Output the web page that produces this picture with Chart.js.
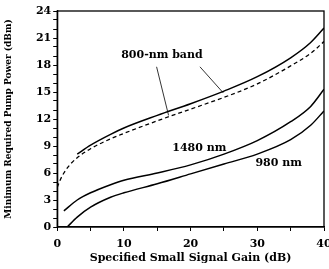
<!DOCTYPE html>
<html>
<head>
<meta charset="utf-8">
<script src="https://cdn.jsdelivr.net/npm/chart.js@4.4.0/dist/chart.umd.min.js"></script>
<style>
  html, body { margin: 0; padding: 0; background: #fff; }
  #wrap { width: 329px; height: 269px; }
</style>
</head>
<body>
<div id="wrap"><canvas id="pump" width="329" height="269"></canvas></div>
<script>
// values (gain in dB, pump power in dBm)
var gain800 = [3, 5, 8, 10, 15, 20, 25, 30, 35, 38, 40];
var pump800 = [8.1, 9.1, 10.3, 11.0, 12.4, 13.7, 15.1, 16.7, 18.8, 20.5, 22.1];

var gain800d = [0, 0.5, 1, 2, 3, 5, 8, 10, 15, 20, 25, 30, 35, 38, 40];
var pump800d = [4.4, 5.3, 6.0, 7.0, 7.7, 8.7, 9.8, 10.4, 11.8, 13.1, 14.4, 15.9, 17.9, 19.3, 20.6];

var gain1480 = [1, 3, 5, 8, 10, 15, 20, 25, 30, 35, 38, 40];
var pump1480 = [1.8, 3.0, 3.8, 4.7, 5.2, 6.0, 6.9, 8.1, 9.6, 11.7, 13.4, 15.3];

var gain980 = [1.5, 3, 5, 8, 10, 15, 20, 25, 30, 35, 38, 40];
var pump980 = [0, 1.1, 2.2, 3.3, 3.8, 4.8, 5.9, 7.0, 8.1, 9.7, 11.3, 12.9];

var xTicks = [0, 10, 20, 30, 40];
var yTicks = [0, 3, 6, 9, 12, 15, 18, 21, 24];

var serif = '"DejaVu Serif", serif';

function pts(xs, ys) {
  return xs.map(function(x, i) { return { x: x, y: ys[i] }; });
}

// curve labels, in data units
var notes = [
  { text: '800-nm band', x: 15.7, y: 19.1 },
  { text: '1480 nm', x: 21.3, y: 8.8 },
  { text: '980 nm', x: 33.2, y: 7.1 }
];
var leaders = [
  [[14.9, 17.8], [16.7, 12.4]],
  [[21.4, 17.8], [24.9, 14.9]]
];

const frameAndNotes = {
  id: 'frameAndNotes',
  afterDatasetsDraw(chart) {
    const { ctx, chartArea: a, scales: { x, y } } = chart;
    ctx.save();
    ctx.strokeStyle = '#000';
    ctx.lineWidth = 1.3;
    ctx.strokeRect(a.left, a.top, a.right - a.left, a.bottom - a.top);

    ctx.lineWidth = 0.8;
    leaders.forEach(function(l) {
      ctx.beginPath();
      ctx.moveTo(x.getPixelForValue(l[0][0]), y.getPixelForValue(l[0][1]));
      ctx.lineTo(x.getPixelForValue(l[1][0]), y.getPixelForValue(l[1][1]));
      ctx.stroke();
    });

    ctx.fillStyle = '#000';
    ctx.font = 'bold 11px ' + serif;
    ctx.textAlign = 'center';
    ctx.textBaseline = 'middle';
    notes.forEach(function(n) {
      ctx.fillText(n.text, x.getPixelForValue(n.x), y.getPixelForValue(n.y));
    });
    ctx.restore();
  }
};

var solid = { borderColor: '#000', borderWidth: 1.5, pointRadius: 0, fill: false, cubicInterpolationMode: 'monotone' };

new Chart(document.getElementById('pump'), {
  type: 'line',
  data: {
    datasets: [
      Object.assign({ data: pts(gain800, pump800) }, solid),
      Object.assign({ data: pts(gain800d, pump800d), borderDash: [4, 3] }, solid, { borderWidth: 1.3 }),
      Object.assign({ data: pts(gain1480, pump1480) }, solid),
      Object.assign({ data: pts(gain980, pump980) }, solid)
    ]
  },
  options: {
    responsive: false,
    animation: false,
    layout: { padding: { top: 11, right: 5, left: 4, bottom: 5 } },
    plugins: { legend: false, tooltip: { enabled: false } },
    scales: {
      x: {
        type: 'linear', min: 0, max: 40,
        afterBuildTicks: function(s) {
          s.ticks = [0, 5, 10, 15, 20, 25, 30, 35, 40].map(function(v) { return { value: v }; });
        },
        afterFit: function(s) { s.paddingRight = 0; },
        ticks: {
          color: '#000', padding: 8, autoSkip: false, maxRotation: 0,
          font: { family: serif, weight: 'bold', size: 11, lineHeight: 1 },
          callback: function(v) { return xTicks.indexOf(v) >= 0 ? v : ''; }
        },
        grid: { drawOnChartArea: false, color: '#000', tickLength: 4 },
        border: { color: '#000', width: 1.3 },
        title: {
          display: true, text: 'Specified Small Signal Gain (dB)', color: '#000',
          font: { family: serif, weight: 'bold', size: 11, lineHeight: 1 }, padding: { top: -5, bottom: 0 }
        }
      },
      y: {
        min: 0, max: 24,
        ticks: {
          stepSize: 1, color: '#000', padding: 2, autoSkip: false,
          font: { family: serif, weight: 'bold', size: 11 },
          callback: function(v) { return yTicks.indexOf(v) >= 0 ? v : ''; }
        },
        grid: { drawOnChartArea: false, color: '#000', tickLength: 4 },
        border: { color: '#000', width: 1.3 },
        title: {
          display: true, text: 'Minimum Required Pump Power (dBm)', color: '#000',
          font: { family: serif, weight: 'bold', size: 9, lineHeight: 1.1 }, padding: { top: 0, bottom: 20 }
        }
      }
    }
  },
  plugins: [frameAndNotes]
});
</script>
</body>
</html>
